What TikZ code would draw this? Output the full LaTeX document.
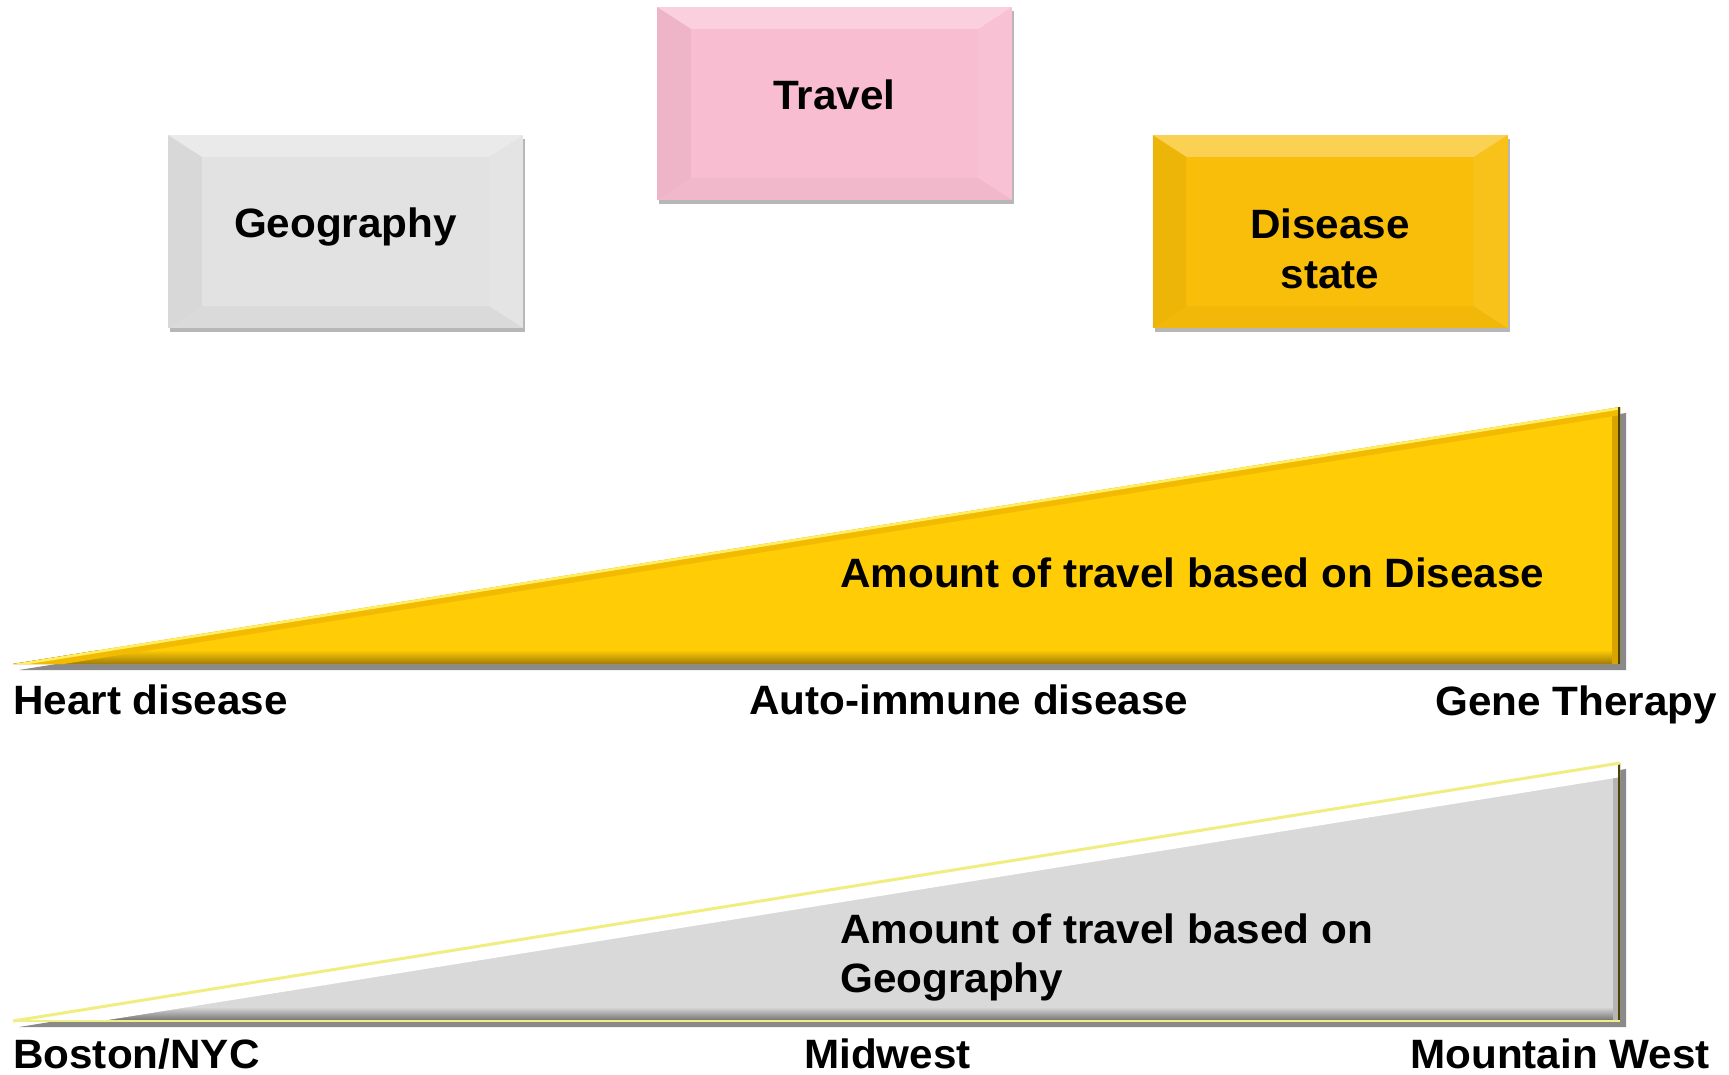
\documentclass[tikz,border=0pt]{standalone}
\usepackage{fontspec}
\setmainfont[FakeStretch=1.03]{Liberation Sans}
\usetikzlibrary{shadows,calc}
\definecolor{geofill}{HTML}{E2E2E2}
\definecolor{travfill}{HTML}{F9BDD1}
\definecolor{disfill}{HTML}{F9BE0A}
\definecolor{triyel}{HTML}{FFCC05}
\definecolor{trigray}{HTML}{D9D9D9}
\definecolor{shadowgray}{HTML}{8A8A8A}
\definecolor{yelband}{HTML}{F2BA00}
\definecolor{yellight}{HTML}{FFEE66}
\definecolor{yelright}{HTML}{D9A400}
\definecolor{yelbottom}{HTML}{A07A08}
\definecolor{oliveedge}{HTML}{4F4300}
\definecolor{paleyel}{HTML}{F0EE80}
\definecolor{grayright}{HTML}{B5B5B5}
\definecolor{graybottom}{HTML}{6E6E6E}
\newcommand\bigfont{\fontsize{41}{45}\selectfont\bfseries}
\newcommand\bevelbox[1]{%
  \fill[white,fill opacity=0.3] (#1.north west) -- (#1.north east) -- ([xshift=-34pt,yshift=-22pt]#1.north east) -- ([xshift=34pt,yshift=-22pt]#1.north west) -- cycle;
  \fill[black,fill opacity=0.045] (#1.north west) -- ([xshift=34pt,yshift=-22pt]#1.north west) -- ([xshift=34pt,yshift=22pt]#1.south west) -- (#1.south west) -- cycle;
  \fill[white,fill opacity=0.07] (#1.north east) -- ([xshift=-34pt,yshift=-22pt]#1.north east) -- ([xshift=-34pt,yshift=22pt]#1.south east) -- (#1.south east) -- cycle;
  \fill[black,fill opacity=0.03] (#1.south west) -- ([xshift=34pt,yshift=22pt]#1.south west) -- ([xshift=-34pt,yshift=22pt]#1.south east) -- (#1.south east) -- cycle;
}
\begin{document}
\begin{tikzpicture}[x=1pt,y=-1pt,
  txt/.style={inner sep=0pt, font=\bigfont},
  bbox/.style={draw=none, inner sep=0pt, minimum width=355pt, minimum height=193pt,
    drop shadow={shadow xshift=2pt, shadow yshift=-4pt, opacity=0.4, fill=black!70}},
]
\useasboundingbox (0,0) rectangle (1729,1075);

% ---------- top boxes ----------
\node[bbox, fill=geofill] (geo) at (345.5,231.5) {};
\bevelbox{geo}
\node[txt, anchor=base] (geotxt) at (345.5,238) {Geography};

\node[bbox, fill=travfill] (trav) at (834.5,103.5) {};
\bevelbox{trav}
\node[txt, anchor=base] (travtxt) at (834.5,110) {Travel};

\node[bbox, fill=disfill] (dis) at (1330,231.5) {};
\bevelbox{dis}
\node[txt, anchor=base] (distxt) at (1330,239) {Disease};
\node[txt, anchor=base] (statetxt) at (1330,288) {state};

% ---------- disease triangle ----------
\coordinate (t1) at (13,664);
\coordinate (r1) at (1620,664);
\coordinate (q1) at (1620,407);
\fill[shadowgray] ($(t1)+(6,6)$) -- ($(r1)+(6,6)$) -- ($(q1)+(6,6)$) -- cycle;
\fill[triyel] (t1) -- (r1) -- (q1) -- cycle;
\begin{scope}
  \clip (t1) -- (r1) -- (q1) -- cycle;
  \fill[top color=triyel, bottom color=yelbottom] (13,650) rectangle (1620,664);
  \draw[line width=16pt, yelright] (r1) -- (q1);
  \draw[line width=16pt, yelband] (t1) -- (q1);
  \draw[line width=5pt, yellight] (t1) -- (q1);
  \draw[line width=5pt, oliveedge] (r1) -- (q1);
\end{scope}
\node[txt, anchor=base west] (amt1) at (840,587) {Amount of travel based on Disease};

\node[txt, anchor=base west] (heart) at (13,714) {Heart disease};
\node[txt, anchor=base west] (auto) at (749,714) {Auto-immune disease};
\node[txt, anchor=base west] (gene) at (1435,715) {Gene Therapy};

% ---------- geography triangle ----------
\coordinate (t2) at (13,1021);
\coordinate (r2) at (1620,1021);
\coordinate (q2) at (1620,763);
\fill[shadowgray] ($(t2)+(6,6)$) -- ($(r2)+(6,6)$) -- ($(q2)+(6,6)$) -- cycle;
\fill[trigray] (t2) -- (r2) -- (q2) -- cycle;
\begin{scope}
  \clip (t2) -- (r2) -- (q2) -- cycle;
  \fill[top color=trigray, bottom color=graybottom] (13,1007) rectangle (1620,1021);
  \draw[line width=14pt, grayright] (r2) -- (q2);
  \draw[line width=28pt, white] (t2) -- (q2);
  \draw[line width=5pt, oliveedge] (r2) -- (q2);
\end{scope}
\draw[line width=3pt, paleyel] (t2) -- (q2);
\draw[line width=2pt, paleyel] (t2) -- (r2);
\node[txt, anchor=west, align=left, font=\bigfont] (amt2) at (840,957) {Amount of travel based on\\[4pt]Geography};

\node[txt, anchor=base west] (boston) at (13,1068) {Boston/NYC};
\node[txt, anchor=base west] (midwest) at (804,1068) {Midwest};
\node[txt, anchor=base west] (mountain) at (1410,1068) {Mountain West};
\end{tikzpicture}
\end{document}
